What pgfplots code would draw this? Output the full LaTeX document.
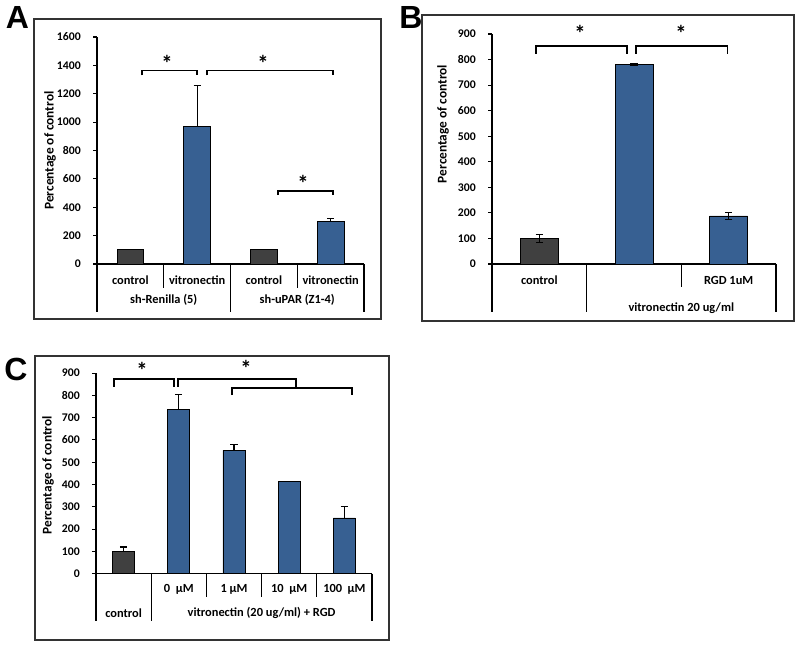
\documentclass[border=0pt]{standalone}
\usepackage{pgfplots}
\pgfplotsset{compat=1.18}
\usepackage{fontspec}
\setmainfont{Carlito}
\newfontfamily\letterfont{Liberation Sans}
\definecolor{ctrl}{RGB}{64,64,64}
\definecolor{vbl}{RGB}{55,96,146}
\newcommand{\lf}{\fontsize{9.3}{10}\selectfont\bfseries}
\newcommand{\tf}{\fontsize{8.8}{10}\selectfont\bfseries}
\newcommand{\yf}{\fontsize{10}{11}\selectfont\bfseries}
\tikzset{
  brk/.style={line width=1.1pt, black},
  ast/.style={font=\fontsize{17}{17}\selectfont\bfseries},
  sep/.style={line width=0.8pt, black},
}
\pgfplotsset{
  panel/.style={
    scale only axis, anchor=south west,
    axis lines*=left, axis line style={line width=0.8pt, black},
    xtick=\empty, tick align=outside, major tick length=3pt,
    ytick style={line width=0.8pt, black},
    ymin=0, clip=false,
    ybar, bar width=0.4,
    /pgf/number format/assume math mode=true,
    /pgf/number format/1000 sep={},
    yticklabel style={font=\tf, inner sep=0pt, xshift=-9pt},
    ylabel style={font=\yf, anchor=center},
  },
  barc/.style={bar shift=0pt, fill=ctrl, draw=black, line width=0.6pt,
    error bars/y explicit, error bars/error mark=-,
    error bars/error bar style={line width=0.8pt, black},
    error bars/error mark options={rotate=90, line width=0.8pt, black, mark size=2.7pt}},
  barv/.style={bar shift=0pt, fill=vbl, draw=black, line width=0.6pt,
    error bars/y explicit, error bars/error mark=-,
    error bars/error bar style={line width=0.8pt, black},
    error bars/error mark options={rotate=90, line width=0.8pt, black, mark size=2.7pt}},
}
\begin{document}
\begin{tikzpicture}
\useasboundingbox (0,0) rectangle (600pt,486pt);
% frames
\draw[line width=0.8pt, black!80] (25.5pt,246.75pt) rectangle (285.75pt,471.75pt);
\draw[line width=0.8pt, black!80] (316.5pt,245.25pt) rectangle (595.5pt,474.75pt);
\draw[line width=0.8pt, black!80] (26.25pt,6pt) rectangle (291.75pt,219pt);
% panel letters
\node[font=\letterfont\bfseries\fontsize{24}{24}\selectfont] at (13.1pt,472.9pt) {A};
\node[font=\letterfont\bfseries\fontsize{24}{24}\selectfont] at (308.25pt,472.5pt) {B};
\node[font=\letterfont\bfseries\fontsize{24}{24}\selectfont] at (12pt,209.25pt) {C};

% ---------------- Panel A
\begin{axis}[panel, at={(72.75pt,288pt)}, width=200.25pt, height=170.25pt,
  xmin=0.5, xmax=4.5, ymax=1600, ytick={0,200,...,1600},
  ylabel={Percentage of control}, ylabel style={at={(axis description cs:-0.176,0.5)}}]
\addplot[barc, error bars/y dir=plus] coordinates {(1,100) (3,100)};
\addplot[barv, error bars/y dir=plus] coordinates {(2,970) +- (0,285) (4,300) +- (0,20)};
\draw[brk] (axis cs:1.174,1330) |- (axis cs:2.0,1362) -- (axis cs:2.0,1330);
\draw[brk] (axis cs:2.148,1330) |- (axis cs:4.035,1362) -- (axis cs:4.035,1330);
\draw[brk] (axis cs:3.21,486) |- (axis cs:4.035,514) -- (axis cs:4.035,486);
\node[ast] at (axis cs:1.549,1417) {*};
\node[ast] at (axis cs:2.987,1417) {*};
\node[ast] at (axis cs:3.586,571) {*};
\draw[sep] (axis cs:0.5,0) -- ([yshift=-36pt]axis cs:0.5,0);
\draw[sep] (axis cs:1.5,0) -- ([yshift=-18pt]axis cs:1.5,0);
\draw[sep] (axis cs:2.5,0) -- ([yshift=-36pt]axis cs:2.5,0);
\draw[sep] (axis cs:3.5,0) -- ([yshift=-18pt]axis cs:3.5,0);
\draw[sep] (axis cs:4.5,0) -- ([yshift=-36pt]axis cs:4.5,0);
\node[font=\lf, yshift=-12pt] at (axis cs:1,0) {control};
\node[font=\lf, yshift=-12pt] at (axis cs:2,0) {vitronectin};
\node[font=\lf, yshift=-12pt] at (axis cs:3,0) {control};
\node[font=\lf, yshift=-12pt] at (axis cs:4,0) {vitronectin};
\node[font=\lf, yshift=-27pt] at (axis cs:1.5,0) {sh-Renilla (5)};
\node[font=\lf, yshift=-27pt] at (axis cs:3.5,0) {sh-uPAR (Z1-4)};
\end{axis}

% ---------------- Panel B
\begin{axis}[panel, at={(369pt,288pt)}, width=213pt, height=172.5pt,
  xmin=0.5, xmax=3.5, ymax=900, ytick={0,100,...,900},
  ylabel={Percentage of control}, ylabel style={at={(axis description cs:-0.1725,0.609)}}]
\addplot[barc, error bars/y dir=both] coordinates {(1,100) +- (0,15)};
\addplot[barv, error bars/y dir=both] coordinates {(2,780) +- (0,5) (3,188) +- (0,15)};
\draw[brk] (axis cs:0.965,822) |- (axis cs:1.926,853) -- (axis cs:1.926,822);
\draw[brk] (axis cs:2.02,822) |- (axis cs:2.99,853) -- (axis cs:2.99,822);
\node[ast] at (axis cs:1.43,904) {*};
\node[ast] at (axis cs:2.496,904) {*};
\draw[sep] (axis cs:0.5,0) -- ([yshift=-36pt]axis cs:0.5,0);
\draw[sep] (axis cs:1.5,0) -- ([yshift=-36pt]axis cs:1.5,0);
\draw[sep] (axis cs:2.5,0) -- ([yshift=-17.25pt]axis cs:2.5,0);
\draw[sep] (axis cs:3.5,0) -- ([yshift=-36pt]axis cs:3.5,0);
\node[font=\lf, yshift=-12pt] at (axis cs:1,0) {control};
\node[font=\lf, yshift=-12pt] at (axis cs:3,0) {RGD 1uM};
\node[font=\lf, yshift=-33pt] at (axis cs:2.5,0) {vitronectin 20 ug/ml};
\end{axis}

% ---------------- Panel C
\begin{axis}[panel, at={(72pt,55.7pt)}, width=207pt, height=150.5pt,
  xmin=0.5, xmax=5.5, ymax=900, ytick={0,100,...,900},
  ylabel={Percentage of control}, ylabel style={at={(axis description cs:-0.174,0.49)}}]
\addplot[barc, error bars/y dir=plus] coordinates {(1,100) +- (0,20)};
\addplot[barv, error bars/y dir=plus] coordinates {(2,735) +- (0,70) (3,553) +- (0,25) (4,413) (5,250) +- (0,50)};
\draw[brk] (axis cs:0.826,839) |- (axis cs:1.913,873) -- (axis cs:1.913,839);
\draw[brk] (axis cs:1.986,839) |- (axis cs:4.123,873) -- (axis cs:4.123,834);
\draw[brk] (axis cs:2.964,801) |- (axis cs:5.138,834) -- (axis cs:5.138,801);
\node[ast] at (axis cs:1.333,910) {*};
\node[ast] at (axis cs:3.217,922) {*};
\draw[sep] (axis cs:0.5,0) -- ([yshift=-35.5pt]axis cs:0.5,0);
\draw[sep] (axis cs:1.5,0) -- ([yshift=-35.5pt]axis cs:1.5,0);
\draw[sep] (axis cs:2.5,0) -- ([yshift=-17.5pt]axis cs:2.5,0);
\draw[sep] (axis cs:3.5,0) -- ([yshift=-17.5pt]axis cs:3.5,0);
\draw[sep] (axis cs:4.5,0) -- ([yshift=-17.5pt]axis cs:4.5,0);
\draw[sep] (axis cs:5.5,0) -- ([yshift=-35.5pt]axis cs:5.5,0);
\node[font=\lf, yshift=-11.5pt] at (axis cs:2,0) {0~~µM};
\node[font=\lf, yshift=-11.5pt] at (axis cs:3,0) {1 µM};
\node[font=\lf, yshift=-11.5pt] at (axis cs:4,0) {10~~µM};
\node[font=\lf, yshift=-11.5pt] at (axis cs:5,0) {100~~µM};
\node[font=\lf, yshift=-29.5pt] at (axis cs:1,0) {control};
\node[font=\lf, yshift=-29.5pt] at (axis cs:3.5,0) {vitronectin (20 ug/ml) + RGD};
\end{axis}
\end{tikzpicture}
\end{document}
